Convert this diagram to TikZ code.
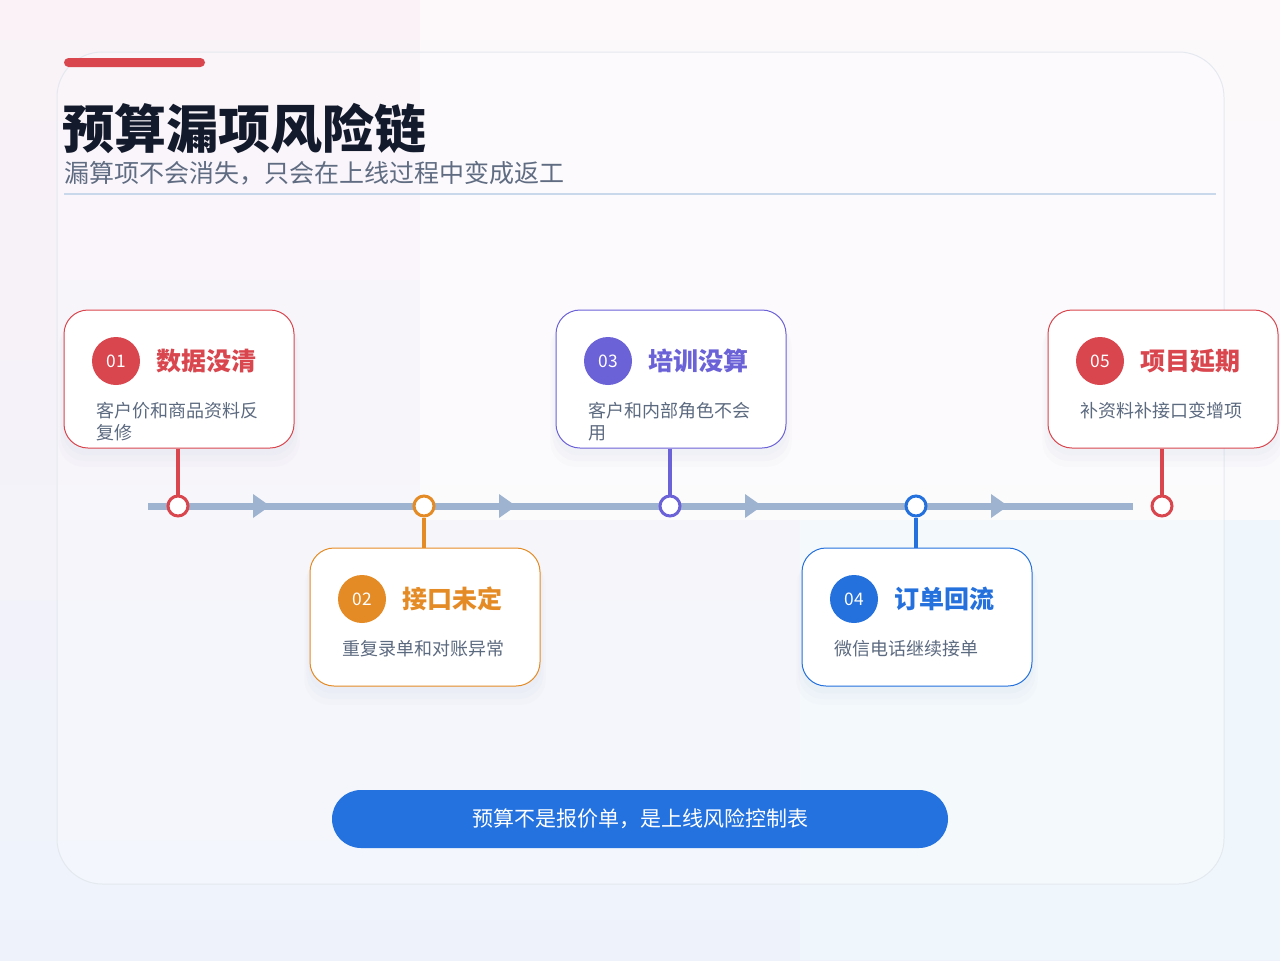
\documentclass[tikz,border=0pt]{standalone}
\usepackage{fontspec}
\setmainfont{Noto Sans CJK SC}
\usetikzlibrary{shadows}
\definecolor{cred}{HTML}{D9464E}
\definecolor{corange}{HTML}{E58B26}
\definecolor{cpurple}{HTML}{6C62D8}
\definecolor{cblue}{HTML}{2471DE}
\definecolor{descc}{HTML}{5C6A80}
\definecolor{titlec}{HTML}{131A2C}
\definecolor{subc}{HTML}{5F6C82}
\definecolor{railc}{HTML}{9DB3CF}
\definecolor{rulec}{HTML}{C9D8EA}
\definecolor{btnc}{HTML}{2372E0}
\definecolor{shc}{HTML}{8A9CC0}
\definecolor{bgtop}{HTML}{FAF2F7}
\definecolor{bgbot}{HTML}{EEF3FB}
\definecolor{bgbr}{HTML}{F0F7FC}
\definecolor{panelc}{HTML}{E4E9F0}
\tikzset{
  cardbox/.style={draw=#1, line width=0.75pt, fill=white, rounded corners=18pt,
    minimum width=172.5pt, minimum height=103.5pt, inner sep=0pt,
    general shadow={fill=shc, opacity=0.025, shadow yshift=-11pt, shadow scale=1.05},
    general shadow={fill=shc, opacity=0.03, shadow yshift=-8pt, shadow scale=1.03},
    general shadow={fill=shc, opacity=0.03, shadow yshift=-5pt, shadow scale=1.01}},
  badge/.style={circle, fill=#1, minimum size=36pt, inner sep=0pt, text=white,
    font=\fontsize{13}{13}\selectfont},
  ctitle/.style={anchor=west, inner sep=0pt, text=#1, font=\bfseries\fontsize{18.75}{20}\selectfont},
  cdesc/.style={anchor=north west, inner sep=0pt, align=left, text=descc,
    font=\fontsize{13.5}{16.5}\selectfont},
  dotc/.style={circle, draw=#1, line width=2.25pt, fill=white, minimum size=15pt, inner sep=0pt},
  stem/.style={draw=#1, line width=2.4pt},
  rail/.style={draw=railc, line width=5.25pt},
  railtip/.style={fill=railc},
}
\begin{document}
\begin{tikzpicture}[x=0.75pt, y=-0.75pt]
\useasboundingbox (0,0) rectangle (1280,960);
% background
\shade[top color=bgtop, bottom color=bgbot] (0,0) rectangle (1280,960);
\fill[white, opacity=0.6] (420,0) rectangle (1280,520);
\fill[bgbr] (800,520) rectangle (1280,960);
% panel
\draw[panelc, line width=0.75pt, fill=white, fill opacity=0.3, rounded corners=34pt] (57,52) rectangle (1224,884);
% header
\fill[cred, rounded corners=3.4pt] (64,58) rectangle (205,67);
\node[anchor=west, inner sep=0pt, text=titlec, font=\bfseries\fontsize{39}{40}\selectfont] (title) at (62,129) {预算漏项风险链};
\node[anchor=west, inner sep=0pt, text=subc, font=\fontsize{18.75}{20}\selectfont] (subtitle) at (64,173) {漏算项不会消失，只会在上线过程中变成返工};
\draw[rulec, line width=1.5pt] (64,194) -- (1216,194);
% rail
\coordinate (r0) at (148,506);
\coordinate (r1) at (1133,506);
\draw[rail] (r0) -- (r1);
\foreach \x in {253,499,745,991}{
  \fill[railtip] (\x,494) -- (\x+17,506) -- (\x,518) -- cycle;
}
% dots
\node[dotc=cred] (d1) at (178,506) {};
\node[dotc=corange] (d2) at (424,506) {};
\node[dotc=cpurple] (d3) at (670,506) {};
\node[dotc=cblue] (d4) at (916,506) {};
\node[dotc=cred] (d5) at (1162,506) {};
% cards
\node[cardbox=cred] (c1) at (179,379) {};
\node[cardbox=corange] (c2) at (425,617) {};
\node[cardbox=cpurple] (c3) at (671,379) {};
\node[cardbox=cblue] (c4) at (917,617) {};
\node[cardbox=cred] (c5) at (1163,379) {};
% stems
\draw[stem=cred] (c1.south -| d1) -- (d1.north);
\draw[stem=corange] (d2.south) -- (c2.north -| d2);
\draw[stem=cpurple] (c3.south -| d3) -- (d3.north);
\draw[stem=cblue] (d4.south) -- (c4.north -| d4);
\draw[stem=cred] (c5.south -| d5) -- (d5.north);
% card 1
\node[badge=cred] (b1) at (116,361) {01};
\node[ctitle=cred] (t1) at (156,361) {数据没清};
\node[cdesc] (e1) at (96,402) {客户价和商品资料反\\复修};
% card 2
\node[badge=corange] (b2) at (362,599) {02};
\node[ctitle=corange] (t2) at (402,599) {接口未定};
\node[cdesc] (e2) at (342,640) {重复录单和对账异常};
% card 3
\node[badge=cpurple] (b3) at (608,361) {03};
\node[ctitle=cpurple] (t3) at (648,361) {培训没算};
\node[cdesc] (e3) at (588,402) {客户和内部角色不会\\用};
% card 4
\node[badge=cblue] (b4) at (854,599) {04};
\node[ctitle=cblue] (t4) at (894,599) {订单回流};
\node[cdesc] (e4) at (834,640) {微信电话继续接单};
% card 5
\node[badge=cred] (b5) at (1100,361) {05};
\node[ctitle=cred] (t5) at (1140,361) {项目延期};
\node[cdesc] (e5) at (1080,402) {补资料补接口变增项};
% button
\node[fill=btnc, rounded corners=21.75pt, minimum width=462pt, minimum height=43.5pt, inner sep=0pt,
  text=white, font=\fontsize{15.75}{16}\selectfont] (btn) at (640,819) {预算不是报价单，是上线风险控制表};
\end{tikzpicture}
\end{document}
